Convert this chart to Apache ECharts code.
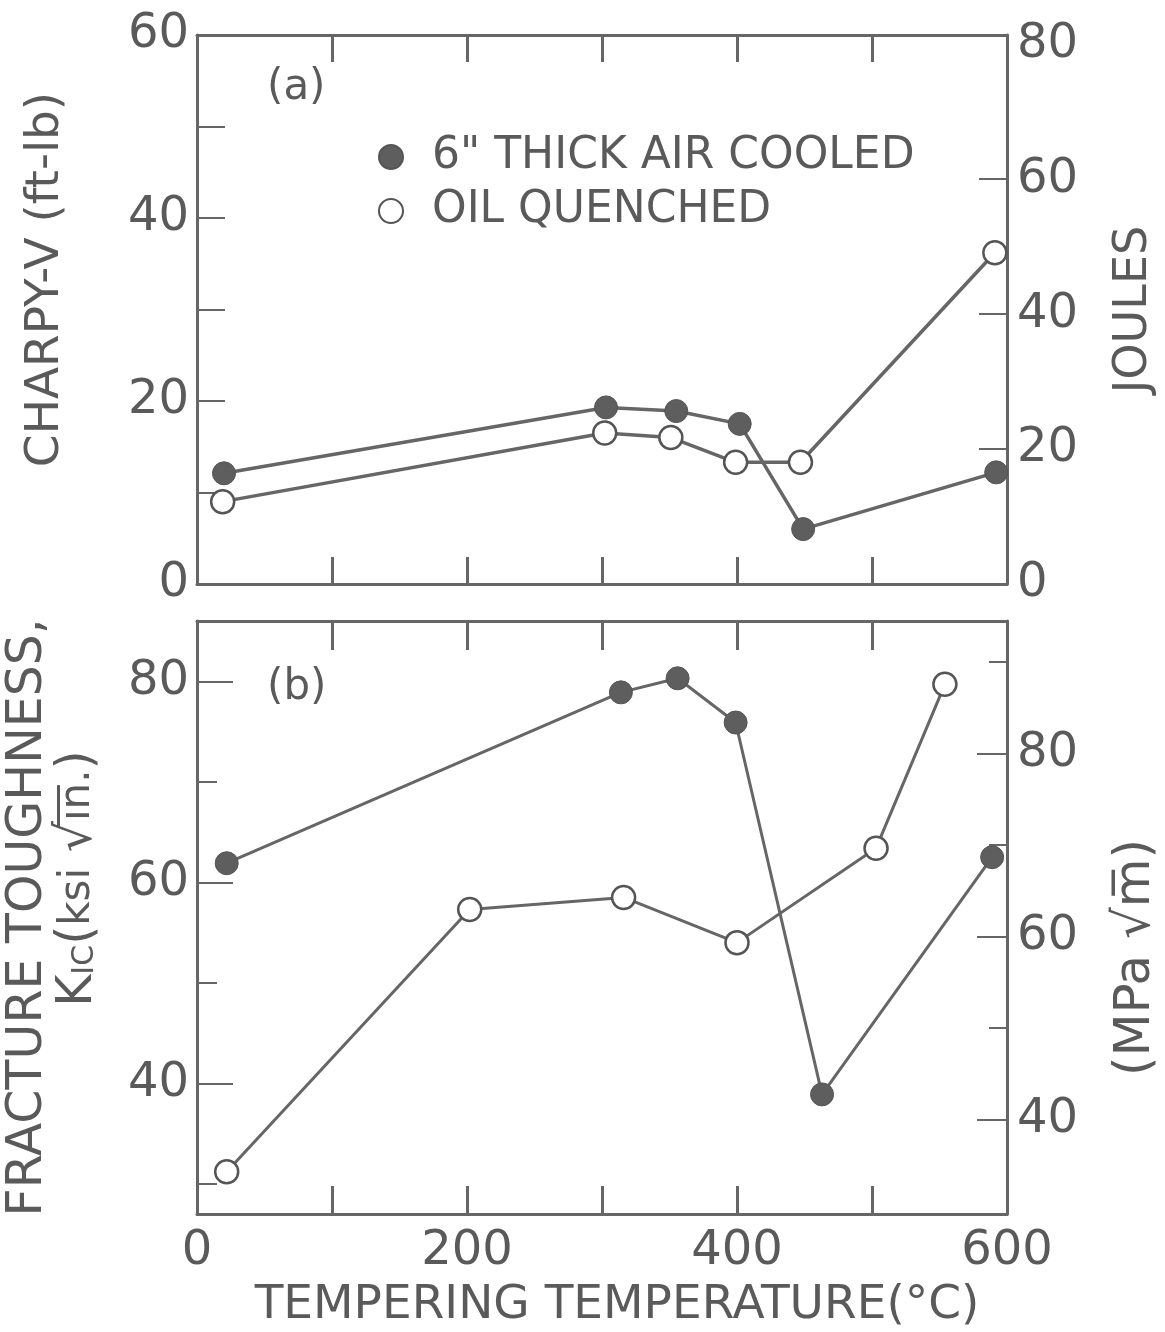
<!DOCTYPE html>
<html>
<head>
<meta charset="utf-8">
<script src="https://cdn.jsdelivr.net/npm/echarts@6/dist/echarts.min.js"></script>
<style>html,body{margin:0;padding:0;background:#fff}#c{width:1165px;height:1332px}</style>
</head>
<body>
<div id="c"></div>
<script>
// ---- Data ----
const seriesNames = ['6" THICK AIR COOLED', 'OIL QUENCHED'];
// (a) Charpy-V, ft-lb
const tempA_air = [20, 303, 355, 402, 449, 592];
const charpyAir = [12.1, 19.3, 18.9, 17.5, 6.0, 12.2];
const tempA_oil = [19, 302, 351, 399, 447, 591];
const charpyOil = [9.0, 16.5, 16.0, 13.3, 13.3, 36.2];
// (b) K_IC, ksi sqrt(in)
const tempB_air = [22, 314, 356, 399, 463, 589];
const kicAir = [61.9, 78.9, 80.3, 75.9, 38.9, 62.5];
const tempB_oil = [22, 202, 316, 400, 503, 554];
const kicOil = [31.2, 57.3, 58.5, 54.0, 63.4, 79.7];
// tick labels
const xTickLabels = [0, 200, 400, 600];
const charpyTicks = [0, 20, 40, 60];
const joulesTicks = [0, 20, 40, 60, 80];
const kicTicks = [40, 60, 80];
const kicMinorTicks = [30, 50, 70];
const mpaTicks = [40, 60, 80];
const mpaMinorTicks = [50, 70, 90];

const FT_LB_TO_J = 1.3558;
const KSI_TO_MPA = 1.0988;
const charpyMax = 60;
const kicMin = 27, kicMax = 86;

const ink = '#5a5a5a';
const lineInk = '#666';
const FONT = 'DejaVu Sans';

function zip(a, b) { return a.map((x, i) => [x, b[i]]); }

const axisLine = { show: true, onZero: false, lineStyle: { color: lineInk, width: 3 } };
const lbl = { color: ink, fontSize: 48, fontFamily: FONT };

const xBase = (grid, pos, extra) => Object.assign({
  type: 'value', gridIndex: grid, position: pos, min: 0, max: 600, interval: 100,
  axisLine: axisLine, splitLine: { show: false },
  axisTick: { show: true, inside: true, length: 27, lineStyle: { color: lineInk, width: 3 } },
  axisLabel: { show: false }
}, extra || {});

const option = {
  backgroundColor: '#fff',
  animation: false,
  title: [
    { text: '(a)', left: 262, top: 62, textStyle: { color: ink, fontSize: 42, fontWeight: 'normal', fontFamily: FONT } },
    { text: '(b)', left: 262, top: 662, textStyle: { color: ink, fontSize: 42, fontWeight: 'normal', fontFamily: FONT } }
  ],
  legend: {
    data: seriesNames,
    orient: 'vertical', left: 373, top: 130,
    icon: 'circle', itemWidth: 24, itemHeight: 24, itemGap: 10,
    selectedMode: false,
    textStyle: { color: ink, fontSize: 44, fontFamily: FONT, padding: [0, 0, 0, 24] }
  },
  grid: [
    { left: 197, right: 158, top: 35, height: 549, outerBoundsMode: 'none', containLabel: false },
    { left: 197, right: 158, top: 621, height: 593, outerBoundsMode: 'none', containLabel: false }
  ],
  xAxis: [
    xBase(0, 'bottom'),
    xBase(0, 'top'),
    xBase(1, 'bottom', {
      axisLabel: {
        show: true, color: ink, fontSize: 48, fontFamily: FONT, margin: 14,
        customValues: xTickLabels
      },
      axisTick: { show: true, inside: true, length: 28, lineStyle: { color: lineInk, width: 3 } },
      name: 'TEMPERING TEMPERATURE(°C)', nameLocation: 'middle', nameGap: 68,
      nameTextStyle: { color: ink, fontSize: 47, fontFamily: FONT, padding: [0, 0, 0, 30] }
    }),
    xBase(1, 'top', { axisTick: { show: true, inside: true, length: 29, lineStyle: { color: lineInk, width: 3 } } })
  ],
  yAxis: [
    { // 0: Charpy ft-lb
      type: 'value', gridIndex: 0, position: 'left', min: 0, max: charpyMax, interval: 10,
      axisLine: axisLine, splitLine: { show: false },
      axisTick: { show: true, inside: true, length: 28, lineStyle: { color: lineInk, width: 2 } },
      axisLabel: Object.assign({ margin: 8, customValues: charpyTicks }, lbl),
      name: 'CHARPY-V (ft-lb)', nameLocation: 'middle', nameRotate: 90, nameGap: 128,
      nameTextStyle: { color: ink, fontSize: 47, fontFamily: FONT, padding: [0, 0, 0, 60] }
    },
    { // 1: Joules
      type: 'value', gridIndex: 0, position: 'right', min: 0, max: charpyMax * FT_LB_TO_J,
      axisLine: axisLine, splitLine: { show: false },
      axisTick: { show: true, inside: true, length: 28, lineStyle: { color: lineInk, width: 2 }, customValues: [20, 40, 60] },
      axisLabel: Object.assign({ margin: 10, customValues: joulesTicks }, lbl),
      name: 'JOULES', nameLocation: 'middle', nameRotate: 90, nameGap: 104,
      nameTextStyle: { color: ink, fontSize: 46, fontFamily: FONT }
    },
    { // 2: K_IC ksi sqrt(in)
      type: 'value', gridIndex: 1, position: 'left', min: kicMin, max: kicMax,
      axisLine: axisLine, splitLine: { show: false },
      axisTick: { show: true, inside: true, length: 36, lineStyle: { color: lineInk, width: 2 }, customValues: kicTicks },
      axisLabel: Object.assign({ margin: 8, customValues: kicTicks }, lbl),
      name: 'FRACTURE TOUGHNESS,\n     K{sub|IC}({sm|ksi} √{sm|i\u0305n\u0305.})', nameLocation: 'middle', nameRotate: 90, nameGap: 94,
      nameTextStyle: {
        color: ink, fontSize: 49, fontFamily: FONT, lineHeight: 50,
        rich: {
          sub: { color: ink, fontSize: 30, fontFamily: FONT, lineHeight: 50, padding: [14, 0, 0, 0] },
          sm: { color: ink, fontSize: 42, fontFamily: FONT, lineHeight: 50 }
        }
      }
    },
    { // 3: MPa sqrt(m)
      type: 'value', gridIndex: 1, position: 'right', min: kicMin * KSI_TO_MPA, max: kicMax * KSI_TO_MPA,
      axisLine: axisLine, splitLine: { show: false },
      axisTick: { show: true, inside: true, length: 30, lineStyle: { color: lineInk, width: 2 }, customValues: mpaTicks },
      axisLabel: Object.assign({ margin: 10, customValues: mpaTicks }, lbl),
      name: '(MPa √m\u0305)', nameLocation: 'middle', nameRotate: 90, nameGap: 104,
      nameTextStyle: { color: ink, fontSize: 50, fontFamily: FONT, padding: [0, 80, 0, 0] }
    },
    { // 4: minor ticks K_IC
      type: 'value', gridIndex: 1, position: 'left', min: kicMin, max: kicMax,
      axisLine: { show: false, onZero: false }, splitLine: { show: false },
      axisTick: { show: true, inside: true, length: 20, lineStyle: { color: lineInk, width: 2 }, customValues: kicMinorTicks },
      axisLabel: { show: false }
    },
    { // 5: minor ticks MPa
      type: 'value', gridIndex: 1, position: 'right', min: kicMin * KSI_TO_MPA, max: kicMax * KSI_TO_MPA,
      axisLine: { show: false, onZero: false }, splitLine: { show: false },
      axisTick: { show: true, inside: true, length: 18, lineStyle: { color: lineInk, width: 2 }, customValues: mpaMinorTicks },
      axisLabel: { show: false }
    }
  ],
  series: [
    {
      name: seriesNames[0], type: 'line', xAxisIndex: 0, yAxisIndex: 0,
      data: zip(tempA_air, charpyAir), symbol: 'circle', symbolSize: 23, z: 3,
      lineStyle: { color: lineInk, width: 3.5 },
      itemStyle: { color: '#5e5e5e', borderColor: '#555', borderWidth: 1 }
    },
    {
      name: seriesNames[1], type: 'line', xAxisIndex: 0, yAxisIndex: 0,
      data: zip(tempA_oil, charpyOil), symbol: 'circle', symbolSize: 23, z: 2,
      lineStyle: { color: lineInk, width: 3.5 },
      itemStyle: { color: '#fff', borderColor: '#555', borderWidth: 2.5 }
    },
    {
      name: seriesNames[0], type: 'line', xAxisIndex: 2, yAxisIndex: 2,
      data: zip(tempB_air, kicAir), symbol: 'circle', symbolSize: 23, z: 3,
      lineStyle: { color: lineInk, width: 3 },
      itemStyle: { color: '#5e5e5e', borderColor: '#555', borderWidth: 1 }
    },
    {
      name: seriesNames[1], type: 'line', xAxisIndex: 2, yAxisIndex: 2,
      data: zip(tempB_oil, kicOil), symbol: 'circle', symbolSize: 23, z: 2,
      lineStyle: { color: lineInk, width: 3 },
      itemStyle: { color: '#fff', borderColor: '#555', borderWidth: 2.5 }
    }
  ]
};

const chart = echarts.init(document.getElementById('c'), null, { renderer: 'canvas' });
chart.setOption(option);
</script>
</body>
</html>
